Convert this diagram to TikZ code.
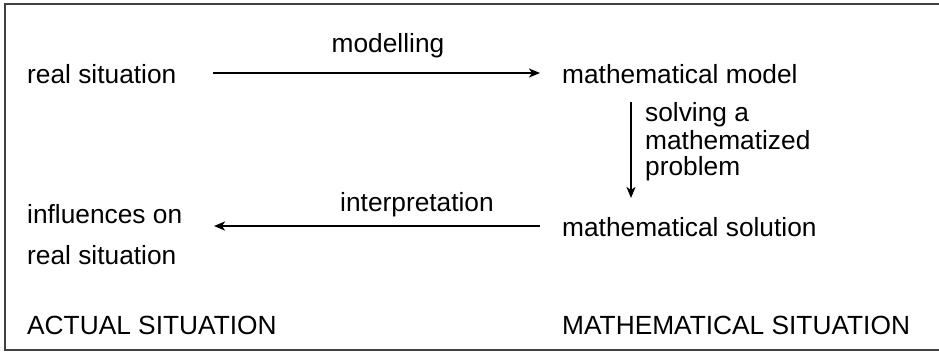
\documentclass[tikz,border=0pt]{standalone}
\usepackage{fontspec}
\setmainfont{Liberation Sans}
\usetikzlibrary{arrows.meta}
\begin{document}
\begin{tikzpicture}[x=1pt,y=-1pt,
  txt/.style={inner sep=0pt, anchor=base west, font=\fontsize{26.3}{31}\selectfont},
  lbl/.style={inner sep=0pt, anchor=base, font=\fontsize{26.3}{31}\selectfont},
  arr/.style={line width=2.3pt, -{Stealth[length=11pt,width=9pt,inset=3pt]}},
  frame/.style={line width=2pt, draw=black!75}]
\useasboundingbox (0,0) rectangle (939,351);
\fill[white] (0,0) rectangle (939,351);
% frame (right side outside the picture)
\draw[frame] (945,4) -- (5,4) -- (5,349.5) -- (945,349.5);
% texts
\node[txt] (rs) at (27,83) {real situation};
\node[txt] (mm) at (562,83) {mathematical model};
\node[txt] (ms) at (562,236) {mathematical solution};
\node[txt] (inf1) at (27,223) {influences on};
\node[txt] (inf2) at (27,264) {real situation};
\node[txt] (act) at (27,334) {ACTUAL SITUATION};
\node[txt] (mat) at (562,334) {MATHEMATICAL SITUATION};
\node[lbl] (lmod) at (388,52) {modelling};
\node[lbl] (lint) at (417,211) {interpretation};
\node[txt] (ls1) at (645,121) {solving a};
\node[txt] (ls2) at (645,149) {mathematized};
\node[txt] (ls3) at (645,175) {problem};
% arrow end points
\coordinate (a1) at (213,73);
\coordinate (a2) at (540,73);
\coordinate (b1) at (631,102);
\coordinate (b2) at (631,198);
\coordinate (c1) at (540,226);
\coordinate (c2) at (214,226);
\draw[arr] (a1) -- (a2);
\draw[arr] (b1) -- (b2);
\draw[arr] (c1) -- (c2);
\end{tikzpicture}
\end{document}
